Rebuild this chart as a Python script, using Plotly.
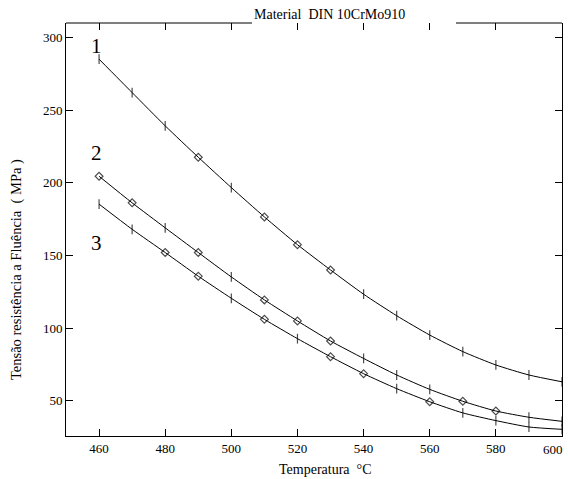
import plotly.graph_objects as go

temps = [460, 470, 480, 490, 500, 510, 520, 530, 540, 550, 560, 570, 580, 590, 600]
curve1 = [285.1, 262.1, 239.2, 217.6, 196.7, 176.5, 157.4, 140.0, 123.3, 108.5, 95.2, 83.8, 74.6, 67.7, 63.0]
curve2 = [204.5, 186.2, 169.0, 152.0, 135.2, 119.4, 104.9, 91.1, 79.1, 67.7, 57.8, 49.6, 42.9, 38.6, 35.8]
curve3 = [185.3, 168.0, 152.0, 135.7, 120.5, 106.0, 92.7, 80.3, 68.6, 58.3, 49.3, 41.6, 36.3, 31.9, 30.3]

D, T = "diamond-open", "line-ns"
symbols1 = [T, T, T, D, T, D, D, D, T, T, T, T, T, T, T]
symbols2 = [D, D, T, D, T, D, D, D, T, T, T, D, D, T, T]
symbols3 = [T, T, D, D, T, D, T, D, D, T, D, T, T, T, T]

curve_labels = ["1", "2", "3"]
label_x = [459.1, 459.1, 459.1]
label_y = [294.3, 220.6, 158.6]

x_ticks = [460, 480, 500, 520, 540, 560, 580, 600]
x_ticktext = ["460", "480", "500", "520", "540", "560", "580", ""]
last_x_label = "600"
y_ticks = [50, 100, 150, 200, 250, 300]

FONT = "Liberation Serif, Times New Roman, Times, serif"

W, H = 568, 479
L, R, TOP, B = 66, 6, 23, 43
PW = W - L - R

fig = go.Figure()
for vals, syms in [(curve1, symbols1), (curve2, symbols2), (curve3, symbols3)]:
    fig.add_trace(go.Scatter(
        x=temps, y=vals, mode="lines+markers",
        line=dict(color="black", width=1, shape="spline", smoothing=0.6),
        marker=dict(symbol=syms, size=[6 if s == D else 7 for s in syms],
                    color="black", line=dict(color="black", width=1.2)),
        showlegend=False, cliponaxis=False,
    ))

# dummy trace for top mirrored ticks
fig.add_trace(go.Scatter(x=[450], y=[None], xaxis="x2", showlegend=False, hoverinfo="skip"))

for t, lx, ly in zip(curve_labels, label_x, label_y):
    fig.add_annotation(x=lx, y=ly, text=t, showarrow=False,
                       font=dict(family=FONT, size=21, color="black"))

# last x tick label, pulled inside the page edge as in the original
fig.add_annotation(xref="x", yref="paper", x=x_ticks[-1], y=0, yshift=-13, xshift=3,
                   xanchor="right", yanchor="middle", text=last_x_label, showarrow=False,
                   font=dict(family=FONT, size=13, color="black"))

fig.add_annotation(xref="paper", yref="paper", x=(329 - L) / PW, y=1, yshift=9,
                   xanchor="center", yanchor="middle",
                   text="Material  DIN 10CrMo910", showarrow=False,
                   font=dict(family=FONT, size=14, color="black"))
fig.add_annotation(xref="paper", yref="paper", x=(325 - L) / PW, y=0, yshift=-33,
                   xanchor="center", yanchor="middle",
                   text="Temperatura  °C", showarrow=False,
                   font=dict(family=FONT, size=14, color="black"))
fig.add_annotation(xref="paper", yref="paper", x=0, xshift=-50, y=(436 - 270) / 413,
                   xanchor="center", yanchor="middle",
                   text="Tensão resistência a Fluência  ( MPa )", showarrow=False,
                   textangle=-90,
                   font=dict(family=FONT, size=14.5, color="black"))

# top axis line with gap for title
fig.add_shape(type="line", xref="paper", yref="paper", x0=0, x1=(252 - L) / PW, y0=1, y1=1,
              line=dict(color="black", width=1))
fig.add_shape(type="line", xref="paper", yref="paper", x0=(456 - L) / PW, x1=1, y0=1, y1=1,
              line=dict(color="black", width=1))

fig.update_layout(
    width=W, height=H,
    margin=dict(l=L, r=R, t=TOP, b=B, autoexpand=False),
    paper_bgcolor="white", plot_bgcolor="white",
    font=dict(family=FONT, size=13, color="black"),
    xaxis=dict(range=[450, 600], tickvals=x_ticks, ticktext=x_ticktext,
               ticks="inside", ticklen=7,
               tickcolor="black", showline=True, linecolor="black", linewidth=1,
               mirror=False, showgrid=False, zeroline=False),
    xaxis2=dict(range=[450, 600], tickvals=x_ticks, ticks="inside", ticklen=7,
                tickcolor="black", overlaying="x", side="top", showline=False,
                showticklabels=False, showgrid=False, zeroline=False),
    yaxis=dict(range=[25.7, 310], tickvals=y_ticks, ticks="inside", ticklen=7,
               tickcolor="black", showline=True, linecolor="black", linewidth=1,
               mirror="ticks", showgrid=False, zeroline=False),
)

fig.write_html("out.html", config={"displayModeBar": False},
               post_script="document.body.style.margin='0';document.body.style.overflow='hidden';")
